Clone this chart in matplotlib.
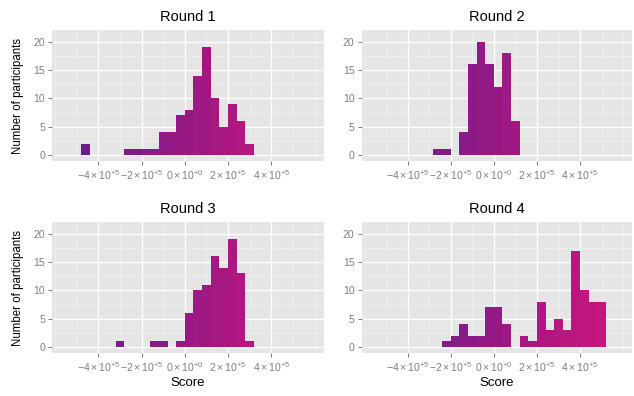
import numpy as np
import matplotlib
matplotlib.use("Agg")
import matplotlib.pyplot as plt
from matplotlib.colors import to_rgb

plt.rcParams['font.family'] = ['Liberation Sans', 'DejaVu Sans']
plt.rcParams['mathtext.fontset'] = 'custom'
plt.rcParams['mathtext.rm'] = 'Liberation Sans'
plt.rcParams['mathtext.it'] = 'Liberation Sans:italic'
plt.rcParams['mathtext.bf'] = 'Liberation Sans:bold'

# ---- data ----
binwidth = 40000
bin_starts = np.arange(-480000, 520000, binwidth)  # 25 bins: -480k ... 480k
rounds = ["Round 1", "Round 2", "Round 3", "Round 4"]
#                 -480 -440 -400 -360 -320 -280 -240 -200 -160 -120 -80 -40  0  40  80 120 160 200 240 280 320 360 400 440 480
counts_r1 = [2, 0, 0, 0, 0, 1, 1, 1, 1, 4, 4, 7, 8, 14, 19, 10, 5, 9, 6, 2, 0, 0, 0, 0, 0]
counts_r2 = [0, 0, 0, 0, 0, 1, 1, 0, 4, 16, 20, 16, 12, 18, 6, 0, 0, 0, 0, 0, 0, 0, 0, 0, 0]
counts_r3 = [0, 0, 0, 0, 1, 0, 0, 0, 1, 1, 0, 1, 6, 10, 11, 16, 14, 19, 13, 1, 0, 0, 0, 0, 0]
counts_r4 = [0, 0, 0, 0, 0, 0, 1, 2, 4, 2, 2, 7, 7, 4, 0, 2, 1, 8, 3, 5, 3, 17, 10, 8, 8]
all_counts = [counts_r1, counts_r2, counts_r3, counts_r4]

x_major = [-400000, -200000, 0, 200000, 400000]
x_labels = [r'$-4\times10^{+5}$', r'$-2\times10^{+5}$', r'$0\times10^{+0}$',
            r'$2\times10^{+5}$', r'$4\times10^{+5}$']
x_minor = [-600000, -500000, -300000, -100000, 100000, 300000, 500000, 600000]
y_major = [0, 5, 10, 15, 20]
y_minor = [2.5, 7.5, 12.5, 17.5]

low_col = np.array(to_rgb("#6A1D8C"))
high_col = np.array(to_rgb("#C8157C"))

# global fill range over non-empty bin centres
centers = bin_starts + binwidth / 2
nonzero = np.zeros(len(bin_starts), bool)
for c in all_counts:
    nonzero |= np.array(c) > 0
cmin, cmax = centers[nonzero].min(), centers[nonzero].max()

W, H = 634, 396
fig = plt.figure(figsize=(W / 100, H / 100), dpi=100)

panel_px = [(52, 30, 323.5, 161), (361.5, 30, 632, 161),
            (52, 222, 323.5, 353), (361.5, 222, 632, 353)]

for i, (rname, counts) in enumerate(zip(rounds, all_counts)):
    x0, y0, x1, y1 = panel_px[i]
    ax = fig.add_axes([x0 / W, 1 - y1 / H, (x1 - x0) / W, (y1 - y0) / H])
    ax.set_facecolor('#E5E5E5')
    for s in ax.spines.values():
        s.set_visible(False)
    counts = np.array(counts)
    m = counts > 0
    t = (centers[m] - cmin) / (cmax - cmin)
    cols = [tuple(low_col + (high_col - low_col) * v) for v in t]
    ax.bar(bin_starts[m], counts[m], width=binwidth, align='edge',
           color=cols, linewidth=0, zorder=3)
    ax.set_xlim(-614000, 641000)
    ax.set_ylim(-1.05, 22.05)
    ax.set_xticks(x_major)
    ax.set_xticklabels(x_labels)
    ax.set_xticks(x_minor, minor=True)
    ax.set_yticks(y_major)
    ax.set_yticks(y_minor, minor=True)
    ax.set_axisbelow(True)
    ax.grid(which='minor', color='#F2F2F2', linewidth=0.5, zorder=1)
    ax.grid(which='major', color='white', linewidth=1.0, zorder=2)
    ax.tick_params(which='major', length=3, width=0.7, color='#7F7F7F',
                   labelsize=7.6, labelcolor='#7F7F7F', pad=2)
    ax.tick_params(which='minor', length=0)
    fig.text((x0 + x1) / 2 / W, 1 - (y0 - 13) / H, rname, ha='center',
             va='center', fontsize=10.5, color='black')
    if i % 2 == 0:
        fig.text(18 / W, 1 - ((y0 + y1) / 2) / H, "Number of participants",
                 rotation=90, ha='center', va='center', fontsize=8.3)
    if i >= 2:
        fig.text((x0 + x1) / 2 / W, 1 - 383 / H, "Score", ha='center',
                 va='center', fontsize=9.5)

fig.savefig("out.png", dpi=100, facecolor='white')
